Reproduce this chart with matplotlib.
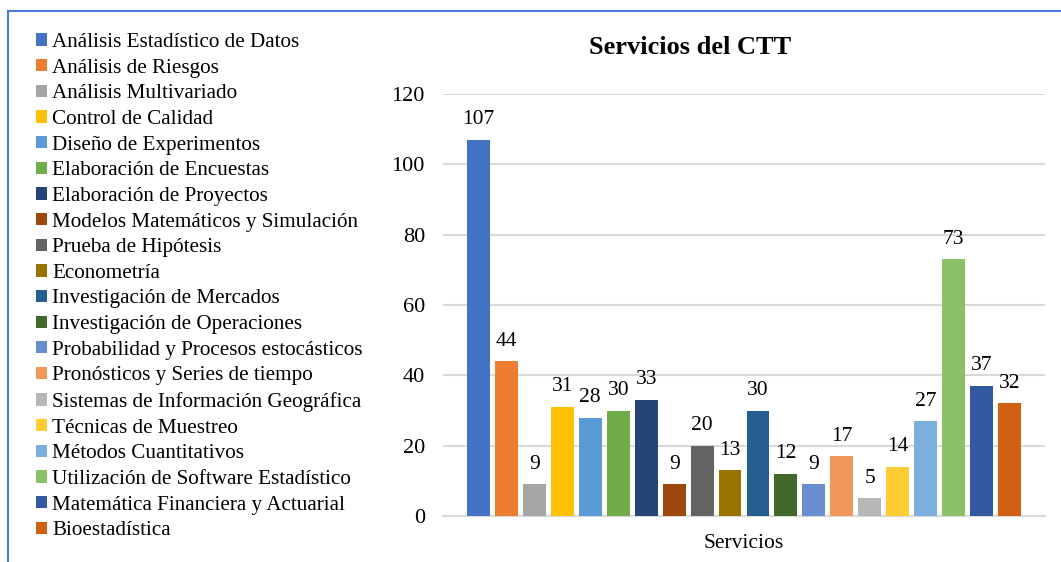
import matplotlib
matplotlib.use("Agg")
import matplotlib.pyplot as plt
from matplotlib.lines import Line2D
from matplotlib.patches import Patch

categories = ["Servicios"]
series_names = [
    "Análisis Estadístico de Datos",
    "Análisis de Riesgos",
    "Análisis Multivariado",
    "Control de Calidad",
    "Diseño de Experimentos",
    "Elaboración de Encuestas",
    "Elaboración de Proyectos",
    "Modelos Matemáticos y Simulación",
    "Prueba de Hipótesis",
    "Econometría",
    "Investigación de Mercados",
    "Investigación de Operaciones",
    "Probabilidad y Procesos estocásticos",
    "Pronósticos y Series de tiempo",
    "Sistemas de Información Geográfica",
    "Técnicas de Muestreo",
    "Métodos Cuantitativos",
    "Utilización de Software Estadístico",
    "Matemática Financiera y Actuarial",
    "Bioestadística",
]
values = [107, 44, 9, 31, 28, 30, 33, 9, 20, 13, 30, 12, 9, 17, 5, 14, 27, 73, 37, 32]
colors = ["#4472C4", "#ED7D31", "#A5A5A5", "#FFC000", "#5B9BD5", "#70AD47",
          "#264478", "#9E480E", "#636363", "#997300", "#255E91", "#43682B",
          "#698ED0", "#F1975A", "#B7B7B7", "#FFCD33", "#7CAFDD", "#8CC168",
          "#335AA1", "#D26012"]
yticks = [0, 20, 40, 60, 80, 100, 120]

plt.rcParams['font.family'] = ['Liberation Serif', 'DejaVu Serif']

W, H = 1061, 562
fig = plt.figure(figsize=(W / 100, H / 100), dpi=100)

# axes placement in pixels
ax_l, ax_r, ax_t, ax_b = 443, 1045, 94, 516
ax = fig.add_axes([ax_l / W, 1 - ax_b / H, (ax_r - ax_l) / W, (ax_b - ax_t) / H])

n = len(values)
xs = list(range(n))
bars = ax.bar(xs, values, width=0.82, color=colors, zorder=3)
for x, v in zip(xs, values):
    ax.text(x, v + 3.0, str(v), ha='center', va='bottom', fontsize=15.5, color='#000000', zorder=4)

ax.set_xlim(-1.27, n - 1 + 1.27)
ax.set_ylim(0, 120)
ax.set_yticks(yticks)
ax.set_yticklabels([str(t) for t in yticks], fontsize=16)
ax.set_xticks([(n - 1) / 2])
ax.set_xticklabels(categories, fontsize=15.5)
ax.tick_params(axis='y', length=0, pad=13)
ax.tick_params(axis='x', length=0, pad=13)
ax.grid(axis='y', color='#D9D9D9', linewidth=1.5, zorder=0)
for s in ['top', 'right', 'left']:
    ax.spines[s].set_visible(False)
ax.spines['bottom'].set_color('#D9D9D9')
ax.spines['bottom'].set_linewidth(1.5)
ax.spines['bottom'].set_zorder(2)

fig.text(690 / W, 1 - 48 / H, "Servicios del CTT", ha='center', va='center',
         fontsize=19, fontweight='bold')

# legend
handles = [Patch(facecolor=c, edgecolor='none') for c in colors]
leg = fig.legend(handles, series_names, loc='upper left',
                 bbox_to_anchor=(36 / W, 1 - 33 / H), frameon=False,
                 fontsize=15.2, handlelength=0.52, handleheight=0.52,
                 handletextpad=0.25, labelspacing=0.315, borderaxespad=0,
                 borderpad=0)

# border lines
fig.add_artist(Line2D([8 / W, 1], [1 - 10.5 / H, 1 - 10.5 / H], color='#4A7BD6', linewidth=1.5,
                      transform=fig.transFigure))
fig.add_artist(Line2D([8 / W, 8 / W], [1 - 10.5 / H, 0], color='#4A7BD6', linewidth=1.5,
                      transform=fig.transFigure))

fig.savefig("out.png", dpi=100)
